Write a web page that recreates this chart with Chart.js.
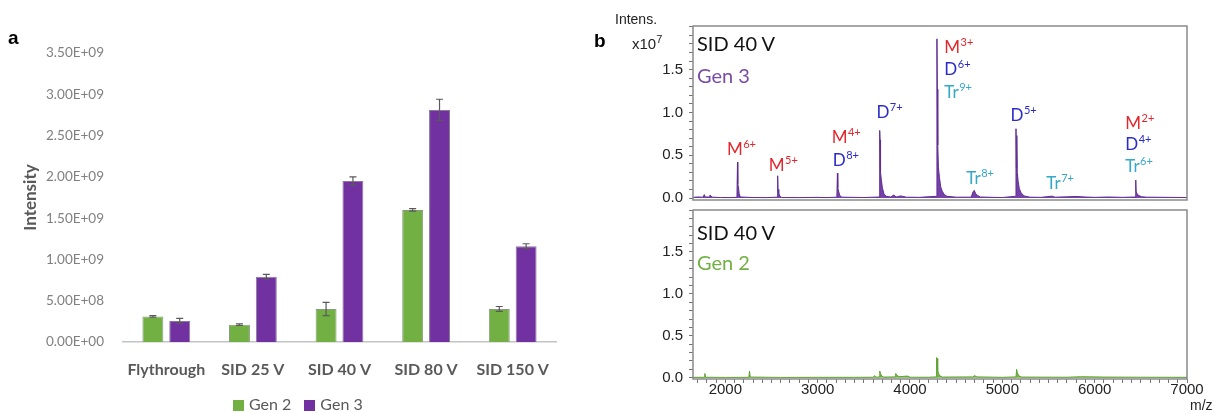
<!DOCTYPE html>
<html>
<head>
<meta charset="utf-8">
<script src="https://cdn.jsdelivr.net/npm/chart.js@4.4.0/dist/chart.umd.min.js"></script>
<style>
  html, body { margin: 0; padding: 0; background: #fff; }
  #wrap { position: relative; width: 1217px; height: 413px; overflow: hidden; font-family: Lato, sans-serif; }
  canvas { position: absolute; }
  .txt { position: absolute; white-space: nowrap; line-height: 1; }
  .key { display: inline-block; width: 11px; height: 11px; margin-right: 5px; vertical-align: -1px; }
</style>
</head>
<body>
<div id="wrap">
  <canvas id="barChart" style="left:0;top:0" width="575" height="413"></canvas>
  <canvas id="specTop" style="left:580px;top:0" width="637" height="215"></canvas>
  <canvas id="specBot" style="left:580px;top:195px" width="637" height="218"></canvas>

  <div class="txt" id="legendA" style="left:233px;top:394px;font:16px Lato;color:#595959"></div>

  <div class="txt" style="left:8px;top:27px;font:bold 19px 'Liberation Sans', Arial">a</div>
  <div class="txt" style="left:594px;top:30px;font:bold 19px 'Liberation Sans', Arial">b</div>
  <div class="txt" style="left:615px;top:11px;font:14px 'Liberation Sans', Arial;color:#222">Intens.</div>
  <div class="txt" style="left:632px;top:33px;font:15px 'Liberation Sans', Arial;color:#222">x10<sup style="font-size:11px">7</sup></div>
  <div class="txt" style="left:1190px;top:397px;font:14px 'Liberation Sans', Arial;color:#222">m/z</div>

  <div class="txt" style="left:697px;top:31px;font:20px Lato;color:#111">SID 40 V</div>
  <div class="txt" style="left:697px;top:63px;font:20px Lato;color:#7a4ca6">Gen 3</div>
  <div class="txt" style="left:697px;top:220px;font:20px Lato;color:#111">SID 40 V</div>
  <div class="txt" style="left:697px;top:250px;font:20px Lato;color:#72b043">Gen 2</div>
</div>

<script>
// ---- panel a: bar chart data ----
const categories = ['Flythrough', 'SID 25 V', 'SID 40 V', 'SID 80 V', 'SID 150 V'];
const gen2Values = [3.1e8, 2.1e8, 4.0e8, 1.60e9, 4.0e8];
const gen2Errors = [0.1e8, 0.1e8, 0.8e8, 0.15e8, 0.3e8];
const gen3Values = [2.55e8, 7.9e8, 1.95e9, 2.81e9, 1.16e9];
const gen3Errors = [0.3e8, 0.3e8, 0.5e8, 1.3e8, 0.3e8];
const yTickLabels = ['0.00E+00', '5.00E+08', '1.00E+09', '1.50E+09', '2.00E+09', '2.50E+09', '3.00E+09', '3.50E+09'];

// ---- panel b: spectra (m/z, intensity x10^7) ----
const gen3Mz = [1650, 1700, 1760, 1772, 1782, 1826, 1834, 1846, 1862, 1950, 2050,
  2126, 2132, 2135, 2142, 2150, 2162, 2300, 2450,
  2562, 2567, 2571, 2579, 2591, 2610, 2800, 3000, 3100,
  3208, 3214, 3218, 3227, 3239, 3262, 3500,
  3666, 3672, 3676, 3681, 3689, 3701, 3718, 3742, 3790, 3825, 3850, 3900, 3960, 4100,
  4286, 4292, 4296, 4301, 4308, 4319, 4333, 4349, 4372, 4400, 4500,
  4662, 4682, 4696, 4712, 4732, 4762, 4900, 5000,
  5142, 5148, 5152, 5157, 5162, 5172, 5184, 5204, 5234, 5300, 5420, 5540, 5570,
  5700, 5800, 5900, 6000, 6150, 6300,
  6438, 6445, 6449, 6459, 6478, 6508, 6566, 6800, 7000];
const gen3Intensity = [0.008, 0.012, 0.010, 0.040, 0.012, 0.012, 0.036, 0.020, 0.010, 0.006, 0.005,
  0.008, 0.42, 0.16, 0.13, 0.05, 0.012, 0.006, 0.005,
  0.010, 0.26, 0.10, 0.06, 0.02, 0.006, 0.005, 0.008, 0.005,
  0.010, 0.29, 0.12, 0.08, 0.03, 0.010, 0.006,
  0.012, 0.79, 0.68, 0.30, 0.22, 0.12, 0.05, 0.02, 0.012, 0.035, 0.012, 0.025, 0.010, 0.008,
  0.02, 1.86, 1.27, 0.62, 0.36, 0.24, 0.13, 0.08, 0.04, 0.02, 0.010,
  0.010, 0.07, 0.09, 0.05, 0.03, 0.012, 0.008, 0.006,
  0.02, 0.81, 0.35, 0.73, 0.30, 0.19, 0.11, 0.06, 0.025, 0.010, 0.008, 0.022, 0.010,
  0.014, 0.018, 0.012, 0.008, 0.012, 0.008,
  0.012, 0.21, 0.08, 0.05, 0.03, 0.015, 0.010, 0.008, 0.006];

const gen2Mz = [1650, 1770, 1778, 1786, 2000, 2255, 2262, 2270, 2600, 3000, 3400,
  3600, 3618, 3630, 3668, 3673, 3680, 3695, 3715, 3838, 3845, 3858, 3880, 3975, 4000, 4200,
  4283, 4288, 4294, 4300, 4310, 4325, 4350, 4680, 4700, 4725, 5000,
  5148, 5155, 5163, 5180, 5210, 5700, 5850, 6100, 6500, 7000];
const gen2Intensity = [0.005, 0.005, 0.05, 0.006, 0.004, 0.005, 0.08, 0.008, 0.004, 0.005, 0.005,
  0.006, 0.025, 0.006, 0.010, 0.08, 0.05, 0.02, 0.008, 0.010, 0.05, 0.03, 0.012, 0.02, 0.006, 0.006,
  0.010, 0.24, 0.23, 0.09, 0.05, 0.02, 0.008, 0.010, 0.025, 0.010, 0.005,
  0.010, 0.10, 0.06, 0.02, 0.008, 0.006, 0.012, 0.008, 0.006, 0.005];

// peak labels: [ion, charge, colour, m/z of left edge, intensity of text baseline]
const RED = '#e3262b', BLUE = '#2b2bc8', CYAN = '#35a8c8';
const gen3PeakLabels = [
  ['M', '6+', RED, 2017, 0.50],
  ['M', '5+', RED, 2471, 0.31],
  ['M', '4+', RED, 3152, 0.64],
  ['D', '8+', BLUE, 3163, 0.38],
  ['D', '7+', BLUE, 3636, 0.93],
  ['M', '3+', RED, 4372, 1.69],
  ['D', '6+', BLUE, 4372, 1.44],
  ['Tr', '9+', CYAN, 4372, 1.17],
  ['Tr', '8+', CYAN, 4610, 0.16],
  ['D', '5+', BLUE, 5088, 0.90],
  ['Tr', '7+', CYAN, 5477, 0.10],
  ['M', '2+', RED, 6331, 0.81],
  ['D', '4+', BLUE, 6331, 0.56],
  ['Tr', '6+', CYAN, 6331, 0.30]
];

const barColors = ['#72b043', '#7231a1'];

const errorBarPlugin = {
  id: 'errorBars',
  afterDatasetsDraw(chart, args, opts) {
    const ctx = chart.ctx, ys = chart.scales.y;
    ctx.save();
    ctx.strokeStyle = '#5a5a5a';
    ctx.lineWidth = 1.2;
    chart.data.datasets.forEach((ds, i) => {
      const errs = opts.errors[i];
      chart.getDatasetMeta(i).data.forEach((bar, j) => {
        const v = ds.data[j], e = errs[j];
        const top = ys.getPixelForValue(v + e), bot = ys.getPixelForValue(v - e);
        ctx.beginPath();
        ctx.moveTo(bar.x, top); ctx.lineTo(bar.x, bot);
        ctx.moveTo(bar.x - 3.5, top); ctx.lineTo(bar.x + 3.5, top);
        ctx.moveTo(bar.x - 3.5, bot); ctx.lineTo(bar.x + 3.5, bot);
        ctx.stroke();
      });
    });
    ctx.restore();
  }
};

const framePlugin = {
  id: 'frame',
  afterDraw(chart) {
    const a = chart.chartArea, ctx = chart.ctx;
    ctx.save();
    ctx.strokeStyle = '#8a8a8a';
    ctx.lineWidth = 1.5;
    ctx.strokeRect(a.left, a.top, a.right - a.left, a.bottom - a.top);
    ctx.restore();
  }
};

const peakLabelPlugin = {
  id: 'peakLabels',
  afterDatasetsDraw(chart, args, opts) {
    const ctx = chart.ctx, xs = chart.scales.x, ys = chart.scales.y;
    ctx.save();
    ctx.textAlign = 'left';
    ctx.textBaseline = 'alphabetic';
    (opts.items || []).forEach(([ion, charge, color, mz, val]) => {
      const px = xs.getPixelForValue(mz), py = ys.getPixelForValue(val);
      ctx.fillStyle = color;
      ctx.font = '17px Lato';
      ctx.fillText(ion, px, py);
      const w = ctx.measureText(ion).width;
      ctx.font = '11px Lato';
      ctx.fillText(charge, px + w + 0.5, py - 7);
    });
    ctx.restore();
  }
};

// ---- panel a ----
const barChart = new Chart(document.getElementById('barChart').getContext('2d'), {
  type: 'bar',
  data: {
    labels: categories,
    datasets: [
      { label: 'Gen 2', data: gen2Values, backgroundColor: barColors[0], borderColor: '#8a9a80', borderWidth: 1 },
      { label: 'Gen 3', data: gen3Values, backgroundColor: barColors[1], borderColor: '#8a7a98', borderWidth: 1 }
    ]
  },
  plugins: [errorBarPlugin],
  options: {
    responsive: false,
    animation: false,
    devicePixelRatio: 1,
    layout: { padding: { left: 20, right: 19, top: 53, bottom: 23 } },
    datasets: { bar: { categoryPercentage: 0.62, barPercentage: 0.78 } },
    plugins: {
      errorBars: { errors: [gen2Errors, gen3Errors] },
      tooltip: { enabled: false },
      legend: { display: false }
    },
    scales: {
      x: {
        grid: { drawOnChartArea: false, drawTicks: false },
        border: { color: '#c4c4c4', width: 1.5 },
        ticks: { color: '#595959', padding: 18, font: { family: 'Lato', size: 16, weight: 'bold' }, maxRotation: 0 },
        afterFit(scale) { scale.height = 48; }
      },
      y: {
        min: 0, max: 3.5e9,
        grid: { display: false },
        border: { display: false },
        ticks: {
          stepSize: 5e8, padding: 11, color: '#808080',
          font: { family: 'Lato', size: 13.5 },
          callback: (v, i) => yTickLabels[i]
        },
        title: { display: true, text: 'Intensity', color: '#595959', padding: 0, font: { family: 'Lato', size: 17, weight: 'bold' } },
        afterFit(scale) { scale.width = 103; }
      }
    }
  }
});

// legend for panel a built from the chart's datasets
document.getElementById('legendA').innerHTML = barChart.data.datasets
  .map(ds => '<span class="key" style="background:' + ds.backgroundColor + '"></span>' + ds.label)
  .join('<span style="display:inline-block;width:13px"></span>');

// ---- panel b ----
function specOptions(yMin, yMax, showX, padTop, padBottom, items) {
  return {
    responsive: false,
    animation: false,
    devicePixelRatio: 1,
    layout: { padding: { left: 0, right: 30, top: padTop, bottom: padBottom } },
    plugins: { legend: { display: false }, tooltip: { enabled: false }, peakLabels: { items: items } },
    elements: { point: { radius: 0 }, line: { tension: 0, borderWidth: 1 } },
    scales: {
      x: {
        type: 'linear', min: 1650, max: 7000,
        display: showX,
        grid: { drawOnChartArea: false, drawTicks: true, tickLength: 4, color: '#777' },
        border: { display: false },
        ticks: {
          stepSize: 100, autoSkip: false, includeBounds: false, maxRotation: 0, padding: -2, color: '#222',
          font: { family: 'Liberation Sans', size: 15 },
          callback: v => (v % 1000 === 0 ? String(v) : '')
        },
        afterFit(scale) { if (showX) scale.height = 34; }
      },
      y: {
        min: yMin, max: yMax,
        grid: { drawOnChartArea: false, drawTicks: true, tickLength: 4, color: '#777' },
        border: { display: false },
        ticks: {
          stepSize: 0.1, autoSkip: false, includeBounds: false, padding: 6, color: '#222',
          font: { family: 'Liberation Sans', size: 15 },
          callback: v => {
            const r = Math.round(v * 2);
            return (Math.abs(v * 2 - r) < 1e-6 && v > -1e-6 && v < 1.9) ? v.toFixed(1) : '';
          }
        },
        afterFit(scale) { scale.width = 113; }
      }
    }
  };
}

new Chart(document.getElementById('specTop').getContext('2d'), {
  type: 'line',
  data: {
    datasets: [{
      data: gen3Mz.map((m, i) => ({ x: m, y: gen3Intensity[i] })),
      borderColor: '#5f2d92', backgroundColor: 'rgba(104,44,160,0.9)', fill: 'origin'
    }]
  },
  plugins: [framePlugin, peakLabelPlugin],
  options: specOptions(-0.023, 2.01, false, 26, 14, gen3PeakLabels)
});

new Chart(document.getElementById('specBot').getContext('2d'), {
  type: 'line',
  data: {
    datasets: [{
      data: gen2Mz.map((m, i) => ({ x: m, y: gen2Intensity[i] })),
      borderColor: '#5fa033', backgroundColor: 'rgba(104,170,58,0.9)', fill: 'origin'
    }]
  },
  plugins: [framePlugin, peakLabelPlugin],
  options: specOptions(-0.015, 2.0, true, 6, 0, [])
});
</script>
</body>
</html>
